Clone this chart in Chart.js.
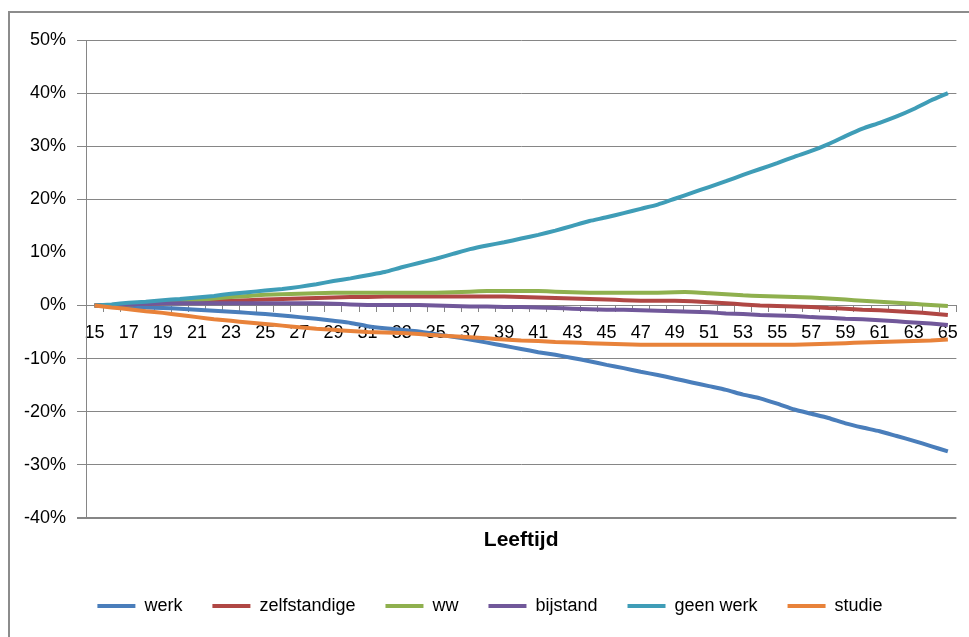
<!DOCTYPE html>
<html>
<head>
<meta charset="utf-8">
<script src="https://cdn.jsdelivr.net/npm/chart.js@4/dist/chart.umd.min.js"></script>
<style>
  html, body { margin: 0; padding: 0; background: #fff; overflow: hidden; }
  #wrap { position: relative; width: 969px; height: 637px; overflow: hidden; }
  #frame { position: absolute; left: 8px; top: 11px; width: 990px; height: 660px;
           border-left: 2px solid #8c8c8c; border-top: 2px solid #8c8c8c; }
  canvas { position: absolute; left: 0; top: 0; }
</style>
</head>
<body>
<div id="wrap">
  <div id="frame"></div>
  <canvas id="chart" width="969" height="637"></canvas>
</div>
<script>
const ages = [15, 16, 17, 18, 19, 20, 21, 22, 23, 24, 25, 26, 27, 28, 29, 30, 31, 32, 33, 34,
  35, 36, 37, 38, 39, 40, 41, 42, 43, 44, 45, 46, 47, 48, 49, 50, 51, 52, 53, 54,
  55, 56, 57, 58, 59, 60, 61, 62, 63, 64, 65];

// verschil t.o.v. 15 jaar, in procentpunten
const werk = [0, -0.1, -0.3, -0.4, -0.5, -0.6, -0.8, -1.0, -1.2, -1.4, -1.6, -1.9, -2.2, -2.5, -2.9, -3.3, -3.9, -4.3, -4.6, -4.9,
  -5.4, -5.9, -6.4, -7.0, -7.6, -8.2, -8.8, -9.3, -9.9, -10.5, -11.2, -11.8, -12.5, -13.1, -13.8, -14.5, -15.2, -15.9, -16.8, -17.5,
  -18.5, -19.6, -20.4, -21.2, -22.2, -23.0, -23.7, -24.6, -25.5, -26.5, -27.5];
const zelfstandige = [0, 0.1, 0.2, 0.3, 0.4, 0.5, 0.7, 0.8, 0.9, 1.0, 1.1, 1.2, 1.3, 1.4, 1.5, 1.6, 1.6, 1.7, 1.7, 1.7,
  1.7, 1.7, 1.7, 1.7, 1.7, 1.6, 1.5, 1.4, 1.3, 1.2, 1.1, 1.0, 0.9, 0.9, 0.9, 0.8, 0.6, 0.4, 0.2, 0.0,
  -0.1, -0.2, -0.3, -0.5, -0.6, -0.8, -0.9, -1.1, -1.3, -1.5, -1.8];
const ww = [0, 0.1, 0.2, 0.4, 0.6, 0.8, 1.0, 1.3, 1.6, 1.8, 2.0, 2.1, 2.2, 2.3, 2.4, 2.4, 2.4, 2.4, 2.4, 2.4,
  2.4, 2.5, 2.6, 2.7, 2.7, 2.7, 2.7, 2.6, 2.5, 2.4, 2.4, 2.4, 2.4, 2.4, 2.5, 2.5, 2.3, 2.1, 1.9, 1.8,
  1.7, 1.6, 1.5, 1.3, 1.1, 0.9, 0.7, 0.5, 0.3, 0.1, -0.1];
const bijstand = [0, 0.1, 0.2, 0.3, 0.4, 0.4, 0.4, 0.4, 0.4, 0.4, 0.4, 0.4, 0.4, 0.4, 0.3, 0.2, 0.1, 0.1, 0.1, 0.1,
  0.0, -0.1, -0.2, -0.2, -0.3, -0.3, -0.4, -0.5, -0.6, -0.7, -0.8, -0.8, -0.9, -1.0, -1.1, -1.2, -1.3, -1.5, -1.6, -1.8,
  -1.9, -2.0, -2.2, -2.3, -2.5, -2.6, -2.8, -3.0, -3.2, -3.4, -3.7];
const geenWerk = [0, 0.2, 0.5, 0.7, 1.0, 1.2, 1.5, 1.8, 2.2, 2.5, 2.8, 3.1, 3.5, 4.0, 4.6, 5.1, 5.7, 6.3, 7.2, 8.0,
  8.8, 9.7, 10.6, 11.3, 11.9, 12.6, 13.3, 14.1, 15.0, 15.9, 16.6, 17.4, 18.2, 19.0, 20.1, 21.2, 22.3, 23.4, 24.6, 25.7,
  26.8, 28.0, 29.1, 30.4, 31.9, 33.3, 34.4, 35.6, 37.0, 38.6, 40.0];
const studie = [0, -0.4, -0.7, -1.1, -1.4, -1.8, -2.2, -2.6, -2.9, -3.2, -3.5, -3.8, -4.1, -4.4, -4.6, -4.8, -5.0, -5.1, -5.2, -5.4,
  -5.6, -5.8, -6.0, -6.2, -6.4, -6.6, -6.7, -6.9, -7.0, -7.1, -7.2, -7.3, -7.4, -7.4, -7.4, -7.4, -7.4, -7.4, -7.4, -7.4,
  -7.4, -7.4, -7.3, -7.2, -7.1, -7.0, -6.9, -6.8, -6.7, -6.6, -6.4];

const seriesNames = ['werk', 'zelfstandige', 'ww', 'bijstand', 'geen werk', 'studie'];
const seriesData = [werk, zelfstandige, ww, bijstand, geenWerk, studie];
const seriesColors = ['#4a7ebb', '#b04744', '#8fb04e', '#71589a', '#3f9db7', '#e8823a'];

const yTicks = [-40, -30, -20, -10, 0, 10, 20, 30, 40, 50];

const FONT = "'Liberation Sans', Arial, sans-serif";
const GRID = '#868686';

const datasets = seriesNames.map((name, i) => ({
  label: name,
  data: seriesData[i],
  borderColor: seriesColors[i],
  backgroundColor: seriesColors[i],
  borderWidth: 4,
  pointRadius: 0,
  tension: 0.2,
  // later series on top, like the original
  order: seriesNames.length - i
}));

new Chart(document.getElementById('chart'), {
  type: 'line',
  data: { labels: ages, datasets: datasets },
  options: {
    responsive: false,
    animation: false,
    devicePixelRatio: 1,
    layout: { padding: { left: 20, right: 9, top: 40, bottom: 12 } },
    scales: {
      x: {
        type: 'category',
        position: { y: 0 },
        offset: true,
        grid: { display: true, drawOnChartArea: false, offset: true, tickLength: 6, color: GRID },
        border: { display: true, color: GRID, width: 1 },
        ticks: {
          autoSkip: false,
          maxRotation: 0,
          padding: 11,
          color: '#000',
          font: { family: FONT, size: 18 },
          callback: function (val, idx) {
            const a = ages[idx];
            return a % 2 === 1 ? String(a) : '';
          }
        }
      },
      y: {
        min: yTicks[0],
        max: yTicks[yTicks.length - 1],
        afterFit: s => { s.width = 66; },
        afterBuildTicks: s => { s.ticks = yTicks.map(v => ({ value: v })); },
        grid: {
          tickLength: 9,
          color: ctx => (ctx.tick && ctx.tick.value === 10 ? 'rgba(0,0,0,0)' : GRID),
          lineWidth: ctx => (ctx.tick && ctx.tick.value === -40 ? 2 : 1)
        },
        border: { display: true, color: GRID },
        ticks: {
          padding: 11,
          color: '#000',
          font: { family: FONT, size: 18 },
          callback: v => v + '%'
        }
      }
    },
    plugins: {
      tooltip: { enabled: false },
      title: {
        display: true,
        text: 'Leeftijd',
        position: 'bottom',
        fullSize: false,
        weight: 500,
        color: '#000',
        font: { family: FONT, size: 21, weight: 'bold' },
        padding: { top: 10, bottom: 14 }
      },
      legend: {
        position: 'bottom',
        labels: {
          boxWidth: 38,
          boxHeight: 4,
          padding: 30,
          color: '#000',
          font: { family: FONT, size: 18 },
          sort: (a, b) => a.datasetIndex - b.datasetIndex,
          generateLabels: chart => Chart.defaults.plugins.legend.labels.generateLabels(chart)
            .map(l => Object.assign(l, { lineWidth: 0, strokeStyle: l.fillStyle }))
        }
      }
    }
  }
});
</script>
</body>
</html>
